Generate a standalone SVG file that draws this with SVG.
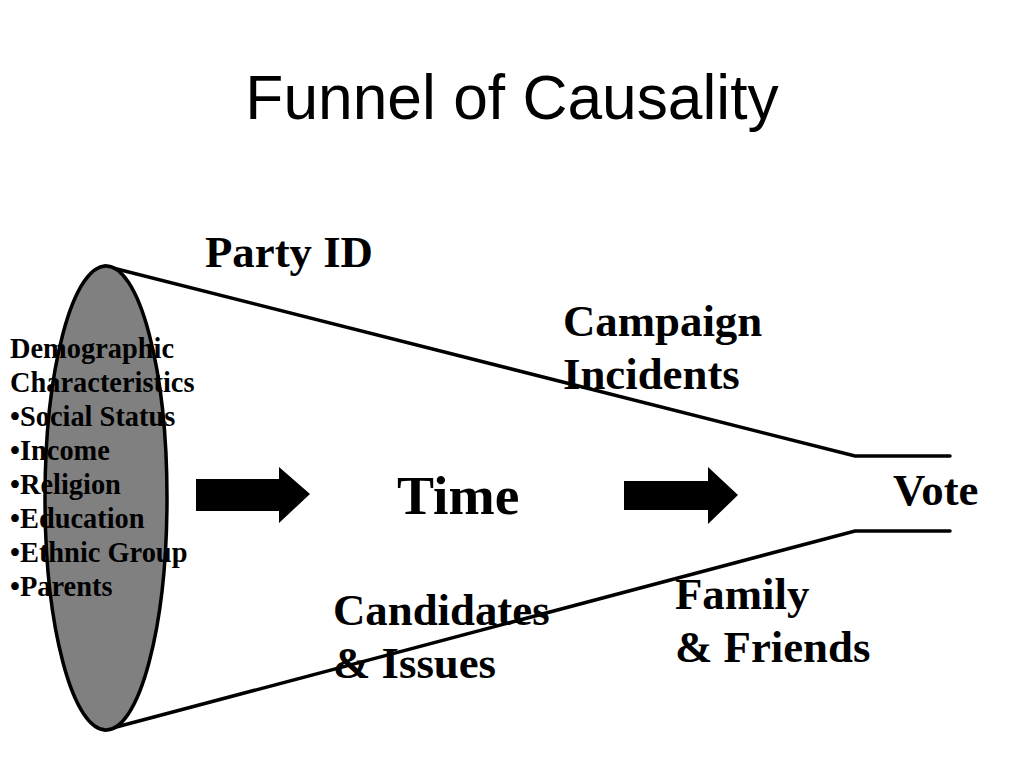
<svg xmlns="http://www.w3.org/2000/svg" width="1024" height="768" viewBox="0 0 1024 768">
<style>
.title{font-family:"Liberation Sans",Arial,sans-serif;font-size:62.3px;fill:#000}
.lbl{font-family:"Liberation Serif","Times New Roman",serif;font-weight:bold;fill:#000;font-size:44.8px}
.lst{font-family:"Liberation Serif","Times New Roman",serif;font-weight:bold;fill:#000;font-size:28.4px}
.ln{stroke:#000;stroke-width:3.5;fill:none;stroke-linecap:round}
.arw{fill:#000}
</style>
<rect width="1024" height="768" fill="#fff"/>
<text class="title" x="512" y="119" text-anchor="middle">Funnel of Causality</text>
<g id="funnel">
<path class="ln" d="M105,266 L855,456 L950,456"/>
<path class="ln" d="M105,730 L855,531 L950,531"/>
</g>
<g id="ellipse">
<ellipse cx="106" cy="498" rx="61" ry="232" fill="#808080" stroke="#000" stroke-width="3.5"/>
</g>
<g id="demographics">
<text class="lst" x="10" y="358">Demographic</text>
<text class="lst" x="10" y="392">Characteristics</text>
<text class="lst" x="10" y="426">•Social Status</text>
<text class="lst" x="10" y="460">•Income</text>
<text class="lst" x="10" y="494">•Religion</text>
<text class="lst" x="10" y="528">•Education</text>
<text class="lst" x="10" y="562">•Ethnic Group</text>
<text class="lst" x="10" y="596">•Parents</text>
</g>
<g id="connectors">
<polygon class="arw" points="196,479 279,479 279,467 310,494 279,523 279,511 196,511"/>
<polygon class="arw" points="624,481 708,481 708,467 738,495 708,524 708,510 624,510"/>
</g>
<g id="party-id"><text class="lbl" x="205" y="267">Party ID</text></g>
<g id="campaign"><text class="lbl" x="563" y="336">Campaign</text><text class="lbl" x="563" y="389">Incidents</text></g>
<g id="time"><text class="lbl" x="397" y="514" style="font-size:55.5px">Time</text></g>
<g id="vote"><text class="lbl" x="893" y="505">Vote</text></g>
<g id="candidates"><text class="lbl" x="333" y="625">Candidates</text><text class="lbl" x="333" y="678">&amp; Issues</text></g>
<g id="family"><text class="lbl" x="675" y="609">Family</text><text class="lbl" x="675" y="662">&amp; Friends</text></g>
</svg>
